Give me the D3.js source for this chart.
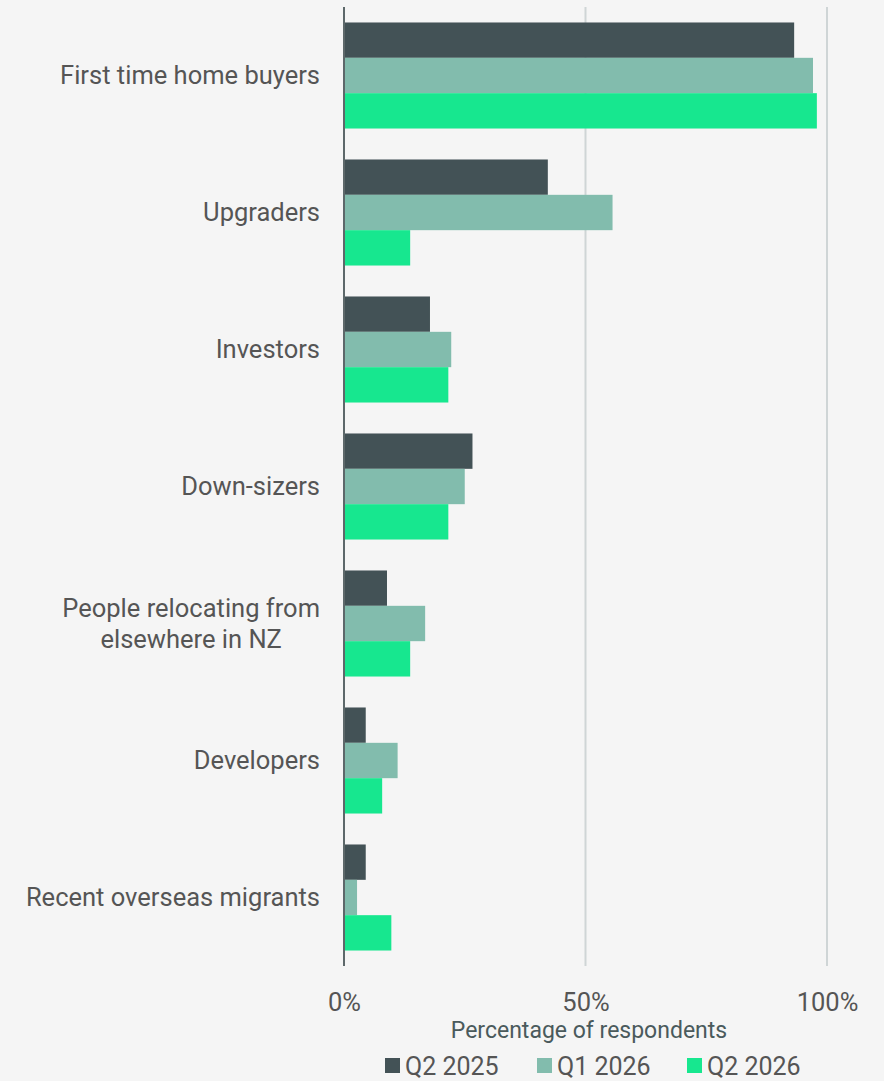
<!DOCTYPE html>
<html>
<head>
<meta charset="utf-8">
<script src="https://cdn.jsdelivr.net/npm/d3@7"></script>
<style>
  html, body { margin: 0; padding: 0; background: #f5f5f5; }
  svg { display: block; }
  text { font-family: Roboto, "Noto Sans", sans-serif; }
</style>
</head>
<body>
<svg id="chart" width="884" height="1081"></svg>
<script>
// Buyer groups, top to bottom
const categories = [
  ["First time home buyers"],
  ["Upgraders"],
  ["Investors"],
  ["Down-sizers"],
  ["People relocating from", "elsewhere in NZ"],
  ["Developers"],
  ["Recent overseas migrants"]
];
const seriesNames = ["Q2 2025", "Q1 2026", "Q2 2026"];
// Percentage of respondents per group, one array per survey quarter
const q2_2025 = [93.2, 42.2, 17.8, 26.6, 8.9, 4.5, 4.5];
const q1_2026 = [97.1, 55.6, 22.2, 25.0, 16.8, 11.1, 2.7];
const q2_2026 = [97.9, 13.7, 21.6, 21.6, 13.7, 7.9, 9.8];
const tickValues = [0, 50, 100];
const tickLabels = ["0%", "50%", "100%"];

const colors = ["#435256", "#82bcad", "#17e78f"];
const series = [q2_2025, q1_2026, q2_2026];

const svg = d3.select("#chart");
const margin = { left: 344, right: 57, top: 7, bottom: 115 };
const W = 884, H = 1081;

const x = d3.scaleLinear().domain([0, 100]).range([margin.left, margin.left + 483]);
const y = d3.scaleBand()
  .domain(d3.range(categories.length))
  .range([margin.top, H - margin.bottom])
  .paddingInner(0.226)
  .paddingOuter(0.113);
const ySub = d3.scaleBand().domain(d3.range(series.length)).range([0, y.bandwidth()]);

// Vertical gridlines
svg.append("g")
  .selectAll("line")
  .data(tickValues.filter(d => d > 0))
  .join("line")
  .attr("x1", d => x(d)).attr("x2", d => x(d))
  .attr("y1", margin.top).attr("y2", H - margin.bottom)
  .attr("stroke", "#cfd5d6").attr("stroke-width", 2);

// Bars
const groups = svg.append("g")
  .selectAll("g")
  .data(categories.map((c, i) => i))
  .join("g")
  .attr("transform", i => `translate(0,${y(i)})`);

groups.selectAll("rect")
  .data(i => series.map((s, k) => ({ k, v: s[i] })))
  .join("rect")
  .attr("x", x(0))
  .attr("y", d => ySub(d.k))
  .attr("width", d => x(d.v) - x(0))
  .attr("height", ySub.bandwidth())
  .attr("fill", d => colors[d.k]);

// Zero axis line
svg.append("line")
  .attr("x1", x(0)).attr("x2", x(0))
  .attr("y1", margin.top).attr("y2", H - margin.bottom)
  .attr("stroke", "#5d686a").attr("stroke-width", 2);

// Category labels: block right-aligned to the axis, lines centred within it
const labels = svg.append("g")
  .selectAll("text")
  .data(categories)
  .join("text")
  .attr("text-anchor", "middle")
  .attr("fill", "#555555")
  .attr("font-size", 25.5)
  .each(function(lines, i) {
    const t = d3.select(this);
    const cy = y(i) + y.bandwidth() / 2;
    const lh = 31;
    lines.forEach((ln, j) => {
      t.append("tspan")
        .attr("x", 0)
        .attr("y", cy + (j - (lines.length - 1) / 2) * lh)
        .attr("dy", "0.35em")
        .text(ln);
    });
  });
labels.each(function() {
  const t = d3.select(this);
  const bb = this.getBBox();
  const cx = x(0) - 24 - bb.width / 2;
  t.selectAll("tspan").attr("x", cx);
});

// X axis tick labels
const xAxis = d3.axisBottom(x)
  .tickValues(tickValues)
  .tickFormat((d, i) => tickLabels[i])
  .tickSize(0)
  .tickPadding(0);
const ax = svg.append("g")
  .attr("transform", `translate(0,${H - margin.bottom})`)
  .call(xAxis);
ax.select(".domain").remove();
ax.selectAll("text")
  .attr("font-family", "Roboto, sans-serif")
  .attr("font-size", 25.5)
  .attr("fill", "#555555")
  .attr("dy", null)
  .attr("y", 45);

// Axis title
svg.append("text")
  .attr("x", 589).attr("y", 1038)
  .attr("text-anchor", "middle")
  .attr("font-size", 23)
  .attr("fill", "#4a5a5c")
  .text("Percentage of respondents");

// Legend
const legendX = [385, 537, 687];
const legend = svg.append("g")
  .selectAll("g")
  .data(seriesNames)
  .join("g")
  .attr("transform", (d, i) => `translate(${legendX[i]},1058)`);
legend.append("rect")
  .attr("width", 15).attr("height", 15)
  .attr("fill", (d, i) => colors[i]);
legend.append("text")
  .attr("x", 20).attr("y", 16.5)
  .attr("font-size", 25)
  .attr("fill", "#555555")
  .text(d => d);
</script>
</body>
</html>
